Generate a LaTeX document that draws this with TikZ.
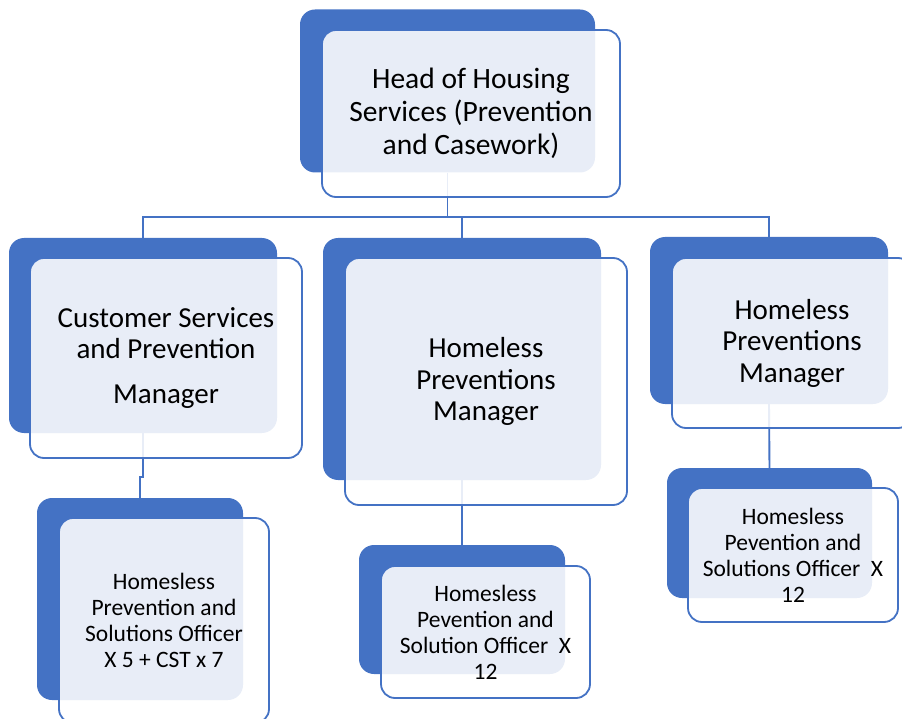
\documentclass[tikz,border=0pt]{standalone}
\usepackage{fontspec}
\setmainfont{Carlito}
\definecolor{sablue}{HTML}{4472C4}
\begin{document}
\begin{tikzpicture}[x=1pt,y=-1pt,
  backbox/.style={fill=sablue, rounded corners=15pt, inner sep=0pt, draw=none},
  frontbox/.style={draw=sablue, line width=1.8pt, fill=white, fill opacity=0.88, text opacity=1,
    rounded corners=14pt, align=center, inner sep=0pt, text=black},
  conn/.style={draw=sablue, line width=1.9pt},
  bigtext/.style={font=\fontsize{29.5}{33}\selectfont},
  midtext/.style={font=\fontsize{29}{31.5}\selectfont},
  smalltext/.style={font=\fontsize{23.5}{26}\selectfont}]
\useasboundingbox (0,0) rectangle (902,719);
\clip (0,0) rectangle (902,719);
\coordinate (bus) at (0,217);
% back boxes
\node[backbox, minimum width=295pt, minimum height=163pt] (topB) at (447.5,91) {};
\node[backbox, minimum width=268pt, minimum height=195pt] (c1B) at (143,335.5) {};
\node[backbox, minimum width=278pt, minimum height=242pt] (c2B) at (462,359) {};
\node[backbox, minimum width=238pt, minimum height=167pt] (c3B) at (769,320.5) {};
\node[backbox, minimum width=206pt, minimum height=202pt] (g1B) at (140,599) {};
\node[backbox, minimum width=206pt, minimum height=129pt] (g2B) at (462,609.5) {};
\node[backbox, minimum width=205pt, minimum height=130pt] (g3B) at (769.5,533) {};
% connectors
\draw[conn] (topB.south) -- (topB.south |- bus);
\draw[conn] (c1B.north) -- (c1B.north |- bus) -- (c3B.north |- bus) -- (c3B.north);
\draw[conn] (c2B.north |- bus) -- (c2B.north);
\draw[conn] (c1B.south) -- ++(0,44) -| (g1B.north);
\draw[conn] (c2B.south) -- (g2B.north);
\draw[conn] (c3B.south) -- (g3B.north);
% front boxes
\node[frontbox, bigtext, minimum width=298pt, minimum height=167pt] (topF) at (471,113.5)
  {Head of Housing\\Services (Prevention\\and Casework)};
\node[frontbox, midtext, minimum width=272pt, minimum height=200pt] (c1F) at (166,358)
  {Customer Services\\and Prevention\\[13pt]Manager};
\node[frontbox, midtext, minimum width=282pt, minimum height=247pt] (c2F) at (486,381.5)
  {Homeless\\Preventions\\Manager};
\node[frontbox, midtext, minimum width=240pt, minimum height=170pt] (c3F) at (792,343)
  {Homeless\\Preventions\\Manager};
\node[frontbox, smalltext, minimum width=210pt, minimum height=205pt] (g1F) at (164,620.5)
  {Homesless\\Prevention and\\Solutions Officer\\X 5 + CST x 7};
\node[frontbox, smalltext, minimum width=209pt, minimum height=132pt] (g2F) at (485.5,632)
  {Homesless\\Pevention and\\Solution Officer~~X\\12};
\node[frontbox, smalltext, minimum width=210pt, minimum height=134pt] (g3F) at (793,555)
  {Homesless\\Pevention and\\Solutions Officer~~X\\12};
\end{tikzpicture}
\end{document}
